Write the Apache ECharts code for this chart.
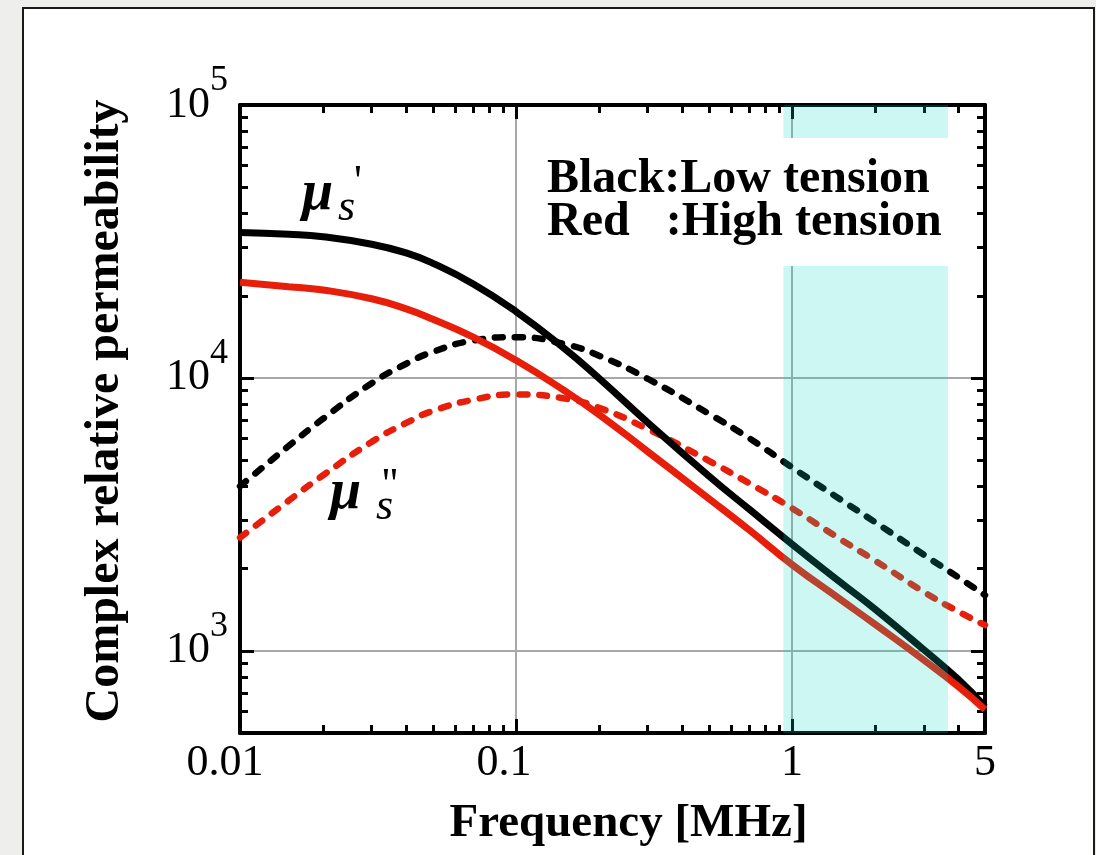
<!DOCTYPE html>
<html>
<head>
<meta charset="utf-8">
<title>Complex relative permeability</title>
<script src="https://cdn.jsdelivr.net/npm/echarts@6/dist/echarts.min.js"></script>
<style>
  html, body { margin: 0; padding: 0; background: #eeeeec; overflow: hidden; }
  #frame { position: absolute; left: 22px; top: 7px; width: 1069px; height: 880px; background: #fff; border: 2px solid #1a1a1a; }
  #chart { position: absolute; left: 0; top: 0; width: 1096px; height: 855px; }
</style>
</head>
<body>
<div id="frame"></div>
<div id="chart"></div>
<script>
// frequency [MHz]
var freq = [0.01, 0.015, 0.02, 0.03, 0.04, 0.05, 0.07, 0.1, 0.15, 0.2, 0.3, 0.5, 0.7, 1, 1.5, 2, 3, 4, 5];
// black solid: mu_s' low tension
var lowReal = [34100, 33600, 32900, 30900, 28700, 26300, 22100, 17500, 12800, 9960, 6860, 4370, 3300, 2460, 1780, 1420, 1010, 786, 625];
// red solid: mu_s' high tension
var highReal = [22400, 21600, 21000, 19500, 17900, 16400, 14100, 11600, 8970, 7340, 5370, 3610, 2770, 2070, 1540, 1250, 926, 740, 609];
// black dashed: mu_s'' low tension
var lowImag = [4010, 5630, 7090, 9560, 11270, 12460, 13700, 14100, 13300, 12060, 9930, 7390, 6010, 4700, 3580, 2960, 2250, 1860, 1600];
// red dashed: mu_s'' high tension
var highImag = [2600, 3550, 4400, 5830, 6840, 7570, 8320, 8700, 8410, 7770, 6500, 4970, 4110, 3330, 2560, 2140, 1645, 1393, 1242];

// axes
var xMin = 0.01, xMax = 5;
var yMin = 500, yMax = 100000;
var xMinorTicks = [0.02, 0.03, 0.04, 0.05, 0.06, 0.07, 0.08, 0.09,
                   0.2, 0.3, 0.4, 0.5, 0.6, 0.7, 0.8, 0.9, 2, 3, 4];
var yMinorTicks = [600, 700, 800, 900,
                   2000, 3000, 4000, 5000, 6000, 7000, 8000, 9000,
                   20000, 30000, 40000, 50000, 60000, 70000, 80000, 90000];
var xTickLabels = ['0.01', '0.1', '1', '5'];
// shaded frequency band
var bandFrom = 0.93, bandTo = 3.67;

var serif = '"Liberation Serif", "Times New Roman", serif';
var lg = Math.log10;

var myChart = echarts.init(document.getElementById('chart'));

function logAxis(pos, min, max, extra) {
  var a = {
    type: 'log', logBase: 10, position: pos, min: min, max: max,
    axisLine: { show: true, onZero: false, lineStyle: { color: '#000', width: 4 } },
    axisTick: { show: true, inside: true, length: 14, lineStyle: { color: '#000', width: 3 } },
    minorTick: { show: false },
    axisLabel: { show: false },
    splitLine: { show: false }
  };
  for (var k in extra) a[k] = extra[k];
  return a;
}

// 副刻度 (2..9 per decade) on a linear axis in log10 units
function minorAxis(pos, min, max, ticks) {
  return {
    type: 'value', position: pos, min: lg(min), max: lg(max),
    axisLine: { show: false, onZero: false },
    axisTick: {
      show: true, inside: true, length: 8,
      lineStyle: { color: '#000', width: 3 },
      customValues: ticks.map(lg)
    },
    axisLabel: { show: false },
    splitLine: { show: false }
  };
}

var gridLine = { show: true, showMinLine: false, showMaxLine: false,
                 lineStyle: { color: '#a8a8a8', width: 2 } };

function curve(name, vals, color, dashed) {
  return {
    name: name, type: 'line', xAxisIndex: 0, yAxisIndex: 0,
    data: freq.map(function (f, i) { return [f, vals[i]]; }),
    showSymbol: false, smooth: 0.5, z: 3,
    lineStyle: dashed
      ? { color: color, width: 6.5, type: [8, 12], cap: 'round' }
      : { color: color, width: 7, type: 'solid' }
  };
}

var option = {
  animation: false,
  backgroundColor: 'transparent',
  textStyle: { fontFamily: serif },
  grid: { left: 240, right: 111, top: 105, bottom: 122, containLabel: false, outerBoundsMode: 'none' },
  xAxis: [
    logAxis('bottom', xMin, xMax, {
      name: 'Frequency [MHz]', nameLocation: 'middle', nameGap: 67,
      nameTextStyle: { fontFamily: serif, fontWeight: 'bold', fontSize: 47, color: '#000', padding: [0, 0, 0, 32] },
      axisLabel: {
        show: true, margin: 8,
        formatter: function (v) {
          var s = String(+v.toPrecision(3));
          var i = xTickLabels.indexOf(s);
          var style = i === 0 ? 'a' : (i === 1 ? 'b' : 'n');
          return '{' + style + '|' + s + '}';
        },
        rich: {
          a: { fontFamily: serif, fontSize: 44, color: '#000', padding: [0, 30, 0, 0] },
          b: { fontFamily: serif, fontSize: 44, color: '#000', padding: [0, 24, 0, 0] },
          n: { fontFamily: serif, fontSize: 44, color: '#000' }
        }
      },
      splitLine: gridLine
    }),
    logAxis('top', xMin, xMax, {}),
    minorAxis('bottom', xMin, xMax, xMinorTicks),
    minorAxis('top', xMin, xMax, xMinorTicks)
  ],
  yAxis: [
    logAxis('left', yMin, yMax, {
      name: 'Complex relative permeability', nameLocation: 'middle', nameGap: 110,
      nameTextStyle: { fontFamily: serif, fontWeight: 'bold', fontSize: 48, color: '#000', padding: [0, 0, 0, 16] },
      axisLabel: {
        show: true, margin: 12,
        formatter: function (v) {
          if (v < 900) return '';
          return '{b|10}{s|' + Math.round(lg(v)) + '}';
        },
        rich: {
          b: { fontFamily: serif, fontSize: 44, color: '#000' },
          s: { fontFamily: serif, fontSize: 36, color: '#000', padding: [0, 0, 48, 0] }
        }
      },
      splitLine: gridLine
    }),
    logAxis('right', yMin, yMax, {}),
    minorAxis('left', yMin, yMax, yMinorTicks),
    minorAxis('right', yMin, yMax, yMinorTicks)
  ],
  series: [
    curve('Low tension μ\'\'', lowImag, '#000', true),
    curve('High tension μ\'\'', highImag, '#e61e0a', true),
    curve('Low tension μ\'', lowReal, '#000', false),
    curve('High tension μ\'', highReal, '#e61e0a', false),
    {
      // 青色の帯 (drawn over the curves)
      name: 'band', type: 'line', xAxisIndex: 0, yAxisIndex: 0, data: [], z: 10,
      markArea: {
        silent: true, z: 10,
        itemStyle: { color: 'rgba(0, 215, 190, 0.2)' },
        data: [[{ xAxis: bandFrom, yAxis: yMin }, { xAxis: bandTo, yAxis: yMax }]]
      }
    }
  ],
  graphic: [
    { type: 'rect', z: 100, silent: true, shape: { x: 540, y: 138, width: 415, height: 128 }, style: { fill: '#fff' } },
    { type: 'text', z: 101, x: 547, y: 179.5, style: { text: 'Black:Low tension', font: 'bold 48px ' + serif, fill: '#000', verticalAlign: 'middle' } },
    { type: 'text', z: 101, x: 547, y: 222.5, style: { text: 'Red   :High tension', font: 'bold 48px ' + serif, fill: '#000', verticalAlign: 'middle' } },
    // mu_s'
    { type: 'text', z: 101, x: 302, y: 195, style: { text: 'μ', font: 'italic bold 56px ' + serif, fill: '#000', verticalAlign: 'middle' } },
    { type: 'text', z: 101, x: 338, y: 208, style: { text: 's', font: 'italic 44px ' + serif, fill: '#000', verticalAlign: 'middle' } },
    { type: 'text', z: 101, x: 354, y: 183, style: { text: '\'', font: '44px ' + serif, fill: '#000', verticalAlign: 'middle' } },
    // mu_s''
    { type: 'text', z: 101, x: 330, y: 494, style: { text: 'μ', font: 'italic bold 56px ' + serif, fill: '#000', verticalAlign: 'middle' } },
    { type: 'text', z: 101, x: 376, y: 507, style: { text: 's', font: 'italic 44px ' + serif, fill: '#000', verticalAlign: 'middle' } },
    { type: 'text', z: 101, x: 382, y: 486, style: { text: '\'\'', font: '44px ' + serif, fill: '#000', verticalAlign: 'middle' } }
  ]
};

myChart.setOption(option);
</script>
</body>
</html>
